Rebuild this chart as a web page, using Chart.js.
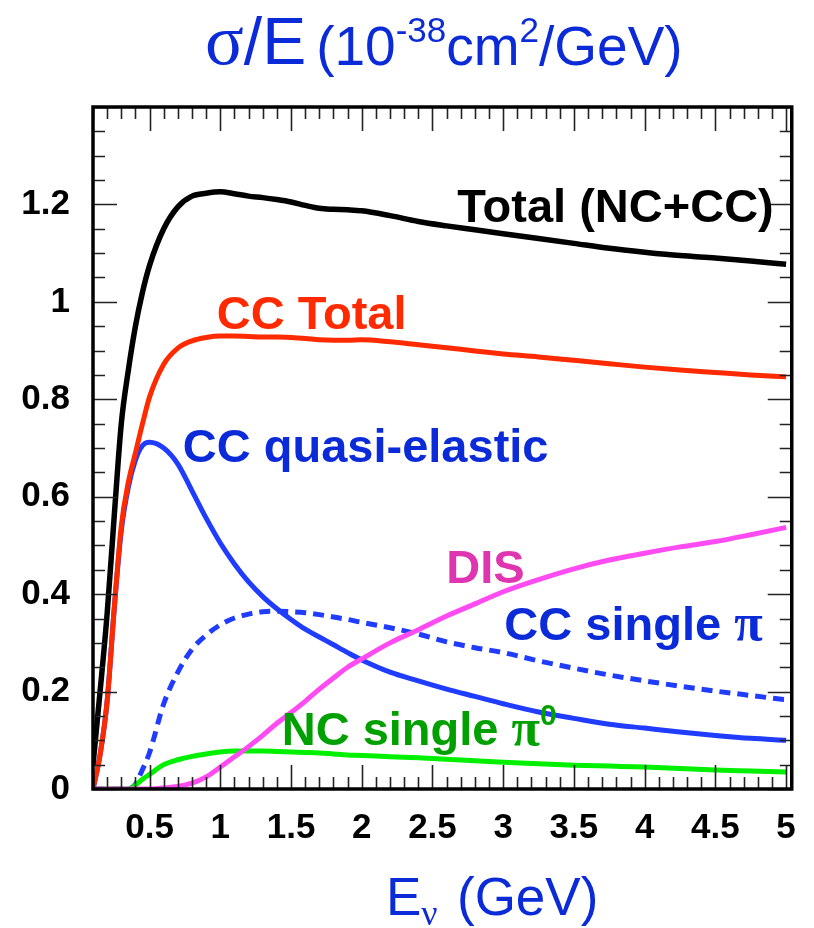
<!DOCTYPE html>
<html><head><meta charset="utf-8">
<script src="https://cdn.jsdelivr.net/npm/chart.js@4.4.0/dist/chart.umd.min.js"></script>
<style>html,body{margin:0;padding:0;background:#fff;overflow:hidden}</style>
</head><body>
<canvas id="c" width="814" height="928"></canvas>
<script>
// ---- data (E in GeV, sigma/E in 1e-38 cm^2/GeV) ----
const energy      = [0.1,0.15,0.2,0.25,0.3,0.35,0.4,0.45,0.5,0.6,0.7,0.8,0.9,1.0,1.1,1.2,1.3,1.4,1.5,1.6,1.7,1.8,1.9,2.0,2.2,2.4,2.6,2.8,3.0,3.25,3.5,3.75,4.0,4.25,4.5,4.75,5.0];
const totalNCCC   = [0.05,0.20,0.36,0.56,0.75,0.86,0.95,1.02,1.075,1.15,1.195,1.217,1.223,1.226,1.222,1.217,1.214,1.21,1.205,1.198,1.192,1.19,1.189,1.187,1.177,1.165,1.156,1.148,1.14,1.13,1.12,1.11,1.102,1.095,1.09,1.084,1.077];
const ccTotal     = [0.0,0.07,0.18,0.37,0.54,0.63,0.69,0.75,0.805,0.872,0.905,0.92,0.927,0.93,0.93,0.929,0.928,0.928,0.927,0.925,0.922,0.921,0.921,0.922,0.918,0.912,0.906,0.899,0.893,0.887,0.88,0.873,0.866,0.86,0.855,0.85,0.846];
const ccQE        = [0.0,0.07,0.18,0.37,0.53,0.62,0.675,0.705,0.712,0.70,0.667,0.612,0.556,0.505,0.462,0.425,0.395,0.37,0.348,0.328,0.312,0.296,0.28,0.265,0.24,0.222,0.205,0.19,0.175,0.158,0.145,0.133,0.125,0.117,0.11,0.104,0.10];
const ccSinglePi  = [0,0,0,0,0,0,0.01,0.04,0.075,0.175,0.24,0.287,0.316,0.337,0.351,0.359,0.364,0.365,0.364,0.362,0.358,0.353,0.348,0.342,0.331,0.318,0.302,0.29,0.28,0.263,0.248,0.234,0.222,0.211,0.201,0.192,0.183];
const dis         = [0,0,0,0,0,0,0,0,0,0.002,0.005,0.012,0.025,0.045,0.066,0.087,0.11,0.135,0.157,0.18,0.205,0.228,0.25,0.267,0.3,0.327,0.355,0.38,0.405,0.43,0.452,0.47,0.484,0.497,0.508,0.522,0.537];
const ncSinglePi0 = [0,0,0,0,0,0,0.008,0.02,0.03,0.05,0.06,0.067,0.072,0.076,0.078,0.078,0.078,0.077,0.076,0.075,0.074,0.072,0.07,0.069,0.066,0.064,0.061,0.058,0.055,0.052,0.049,0.047,0.045,0.042,0.039,0.037,0.035];

const xTickValues = [0.5,1,1.5,2,2.5,3,3.5,4,4.5,5];
const xTickLabels = ['0.5','1','1.5','2','2.5','3','3.5','4','4.5','5'];
const yTickValues = [0,0.2,0.4,0.6,0.8,1.0,1.2];
const yTickLabels = ['0','0.2','0.4','0.6','0.8','1','1.2'];

const seriesNames = ['Total (NC+CC)','CC Total','CC quasi-elastic','DIS','CC single π','NC single π0'];

// ---- styling / annotation placement (data coordinates) ----
const BLUE_LINE = '#1f3cff', BLUE_TEXT = '#0b2bd8';
const labelSpecs = [
  {x:2.676, y:1.164, color:'#000000', runs:[['Total (NC+CC)','sans',47,0]]},
  {x:0.975, y:0.944, color:'#ff2a00', runs:[['CC Total','sans',47,0]]},
  {x:0.735, y:0.671, color:BLUE_TEXT, runs:[['CC quasi-elastic','sans',47,0]]},
  {x:2.598, y:0.423, color:'#e035b0', runs:[['DIS','sans',47,0]]},
  {x:3.008, y:0.306, color:BLUE_TEXT, runs:[['CC single ','sans',47,0],['π','serif',52,0]]},
  {x:1.434, y:0.090, color:'#00a000', runs:[['NC single ','sans',47,0],['π','serif',52,0],['0','sans',30,-20]]}
];

function pts(arr){ return energy.map((e,i)=>({x:e,y:arr[i]})); }

function drawRuns(ctx, x, y, runs, weight){
  for (const r of runs){
    const fam = r[1]==='serif' ? '"Liberation Serif", "DejaVu Serif", serif' : '"Liberation Sans", Arial, sans-serif';
    ctx.font = (weight||'') + ' ' + r[2] + 'px ' + fam;
    ctx.fillText(r[0], x, y + r[3]);
    x += ctx.measureText(r[0]).width;
  }
  return x;
}

const decor = {
  id:'decor',
  beforeDraw(chart){
    const ctx = chart.ctx; ctx.save(); ctx.fillStyle='#fff'; ctx.fillRect(0,0,chart.width,chart.height); ctx.restore();
  },
  afterDraw(chart){
    const ctx = chart.ctx, a = chart.chartArea, xs = chart.scales.x, ys = chart.scales.y;
    ctx.save();
    // minor/major ticks on all four sides (inward)
    ctx.strokeStyle = '#222'; ctx.lineWidth = 1.6;
    ctx.beginPath();
    for (let i = Math.ceil(xs.min/0.1 - 1e-6); i*0.1 <= xs.max + 1e-9; i++){
      const px = Math.round(xs.getPixelForValue(i*0.1)) + 0.5;
      const L = (i % 5 === 0) ? 24 : 12;
      ctx.moveTo(px, a.bottom); ctx.lineTo(px, a.bottom - L);
      ctx.moveTo(px, a.top); ctx.lineTo(px, a.top + L);
    }
    for (let i = 0; i*0.05 <= ys.max + 1e-9; i++){
      const py = Math.round(ys.getPixelForValue(i*0.05)) + 0.5;
      const L = (i % 4 === 0) ? 24 : 12;
      ctx.moveTo(a.left, py); ctx.lineTo(a.left + L, py);
      ctx.moveTo(a.right, py); ctx.lineTo(a.right - L, py);
    }
    ctx.stroke();
    // frame
    ctx.strokeStyle = '#000'; ctx.lineWidth = 3.5;
    ctx.strokeRect(a.left, a.top, a.right - a.left, a.bottom - a.top);

    // curve labels
    ctx.textBaseline = 'alphabetic'; ctx.textAlign = 'left';
    for (const s of labelSpecs){
      ctx.fillStyle = s.color;
      drawRuns(ctx, xs.getPixelForValue(s.x), ys.getPixelForValue(s.y), s.runs, 'bold');
    }

    // title
    ctx.fillStyle = BLUE_TEXT;
    let x = 205;
    x = drawRuns(ctx, x, 64, [['σ','serif',72,0]], '');
    x = drawRuns(ctx, x, 64, [['/E','sans',66,0]], '');
    x += 10;
    drawRuns(ctx, x, 65, [['(10','sans',55,0],['-38','sans',35,-23],['cm','sans',55,0],['2','sans',35,-23],['/GeV)','sans',55,0]], '');

    // x-axis title
    let xx = 386;
    xx = drawRuns(ctx, xx, 915, [['E','sans',53,0]], '');
    xx = drawRuns(ctx, xx, 925, [['ν','serif',36,0]], '');
    drawRuns(ctx, 457, 915, [['(GeV)','sans',53,0]], '');
    ctx.restore();
  }
};

const base = {pointRadius:0, borderWidth:5, fill:false, cubicInterpolationMode:'monotone'};
new Chart(document.getElementById('c'), {
  type:'line',
  data:{ datasets:[
    Object.assign({label:seriesNames[0], data:pts(totalNCCC), borderColor:'#000000'}, base, {borderWidth:5.5}),
    Object.assign({label:seriesNames[1], data:pts(ccTotal), borderColor:'#ff2a00'}, base),
    Object.assign({label:seriesNames[3], data:pts(dis), borderColor:'#ff4cf2'}, base),
    Object.assign({label:seriesNames[5], data:pts(ncSinglePi0), borderColor:'#00f000'}, base),
    Object.assign({label:seriesNames[2], data:pts(ccQE), borderColor:BLUE_LINE}, base),
    Object.assign({label:seriesNames[4], data:pts(ccSinglePi), borderColor:BLUE_LINE, borderDash:[11,7]}, base)
  ]},
  options:{
    responsive:false, animation:false, devicePixelRatio:1,
    layout:{padding:{top:107, right:21, bottom:0, left:0}},
    plugins:{legend:{display:false}, tooltip:{enabled:false}, title:{display:false}},
    scales:{
      x:{ type:'linear', min:0.1, max:5.04,
          grid:{display:false, drawTicks:false}, border:{display:false},
          afterBuildTicks:s=>{ s.ticks = xTickValues.map(v=>({value:v})); },
          afterFit:s=>{ s.height = 139; },
          ticks:{ autoSkip:false, maxRotation:0, padding:18, color:'#000',
                  font:{family:'"Liberation Sans", Arial, sans-serif', size:35, weight:'bold'},
                  callback:(v,i)=>xTickLabels[i] } },
      y:{ type:'linear', min:0, max:1.4,
          grid:{display:false, drawTicks:false}, border:{display:false},
          afterBuildTicks:s=>{ s.ticks = yTickValues.map(v=>({value:v})); },
          afterFit:s=>{ s.width = 93; },
          ticks:{ padding:23, color:'#000',
                  font:{family:'"Liberation Sans", Arial, sans-serif', size:35, weight:'bold'},
                  callback:(v,i)=>yTickLabels[i] } }
    }
  },
  plugins:[decor]
});
</script>
</body></html>
